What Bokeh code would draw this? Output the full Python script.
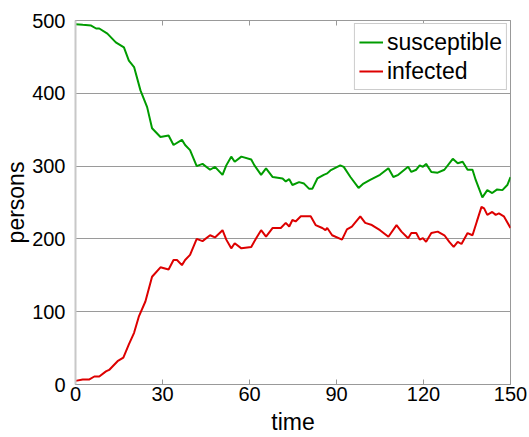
from bokeh.plotting import figure
from bokeh.models import Range1d, LinearAxis, FixedTicker, Legend, LegendItem
from bokeh.embed import file_html
from bokeh.resources import INLINE

time_s = [0, 2.5, 5.4, 7.1, 8.2, 11, 13.9, 16.7, 18.4, 20.2, 22.4, 24.7, 26.4, 29.3,
          32.1, 33.8, 36.7, 37.8, 39.5, 41.8, 43.8, 46.4, 48.1, 50.7, 52, 53.7, 54.9,
          57.2, 60.6, 61.7, 64, 65.7, 68, 71.4, 72.5, 73.7, 74.8, 77.1, 78.8, 80.5,
          81.7, 83.4, 85.6, 86.8, 87.9, 91.3, 92.5, 94.8, 97.6, 99.3, 101.6, 105,
          107.9, 109.6, 111.3, 114.7, 115.8, 117.5, 118.7, 119.8, 120.9, 122.7, 124.9,
          127.2, 130.1, 131.8, 133.5, 135.2, 136.9, 138, 140.3, 142, 143.7, 145.4,
          147.2, 148.9, 150]
susceptible = [495, 494, 493, 489, 489, 482, 470, 463, 445, 436, 404, 381, 352, 340,
               342, 329, 336, 329, 322, 300, 303, 295, 299, 288, 301, 313, 306,
               313, 309, 301, 288, 297, 285, 283, 279, 282, 274, 278, 276, 269,
               269, 283, 288, 290, 294, 301, 299, 285, 270, 276, 281, 288,
               297, 285, 288, 299, 292, 295, 301, 299, 303, 292, 291,
               295, 310, 304, 306, 295, 295, 281, 257, 267, 263, 268,
               267, 274, 285]

time_i = [0, 2.5, 4.8, 6.5, 8.2, 10.5, 11.6, 14.5, 16.5, 18.4, 20.2, 21.9, 24.1, 26.4,
          29.3, 32.1, 33.8, 35, 36.7, 37.8, 39.5, 41.8, 43.8, 46.4, 48.1, 50.7, 52,
          53.7, 54.9, 57.2, 60.6, 62.3, 64, 65.7, 68, 70.8, 72.5, 73.7, 74.8, 75.9,
          77.7, 79.9, 81.1, 82.8, 85.1, 86.2, 86.8, 88.5, 91.9, 93.6, 95.3, 98.2,
          99.9, 102.2, 105, 107.9, 110.7, 112.4, 114.7, 115.8, 117.5, 118.7, 119.8,
          120.9, 122.7, 124.9, 127.2, 128.9, 130.4, 131.8, 133.1, 135.2, 136.9,
          138.4, 140, 140.9, 142, 143.7, 144.9, 146, 147.7, 150]
infected = [5, 7, 7, 11, 11, 18, 20, 32, 37, 55, 71, 94, 114, 148,
            161, 158, 171, 171, 164, 171, 178, 200, 197, 205, 202, 212, 199,
            187, 194, 187, 189, 201, 212, 203, 215, 215, 222, 217, 226, 224,
            231, 231, 231, 219, 215, 212, 215, 205, 199, 213, 217, 231,
            222, 219, 212, 203, 219, 210, 201, 208, 208, 199, 201,
            196, 208, 210, 205, 196, 189, 196, 193, 208, 205,
            224, 244, 242, 233, 237, 233, 235, 231, 215]

x_ticks = [0, 30, 60, 90, 120, 150]
y_ticks = [0, 100, 200, 300, 400, 500]
grid_ticks = [100, 200, 300, 400]

FONT = "Liberation Sans"

p = figure(width=529, height=437, output_backend="svg", toolbar_location=None,
           x_range=Range1d(0, 150), y_range=Range1d(0, 500),
           min_border_left=60, min_border_right=19, min_border_top=20,
           min_border_bottom=52, background_fill_color="white",
           border_fill_color="white")

p.outline_line_color = "#999999"
p.outline_line_width = 1

p.xgrid.visible = False
p.ygrid.ticker = FixedTicker(ticks=grid_ticks)
p.ygrid.grid_line_color = "#9a9a9a"
p.ygrid.grid_line_width = 1

xa = p.xaxis[0]
xa.ticker = FixedTicker(ticks=x_ticks)
xa.axis_label = "time"
xa.axis_label_text_font = FONT
xa.axis_label_text_font_size = "23px"
xa.axis_label_text_font_style = "normal"
xa.axis_label_text_color = "black"
xa.axis_label_standoff = 5
xa.major_label_text_font = FONT
xa.major_label_text_font_size = "20px"
xa.major_label_text_color = "black"
xa.major_label_standoff = 2
xa.axis_line_color = "#999999"
xa.major_tick_line_color = "#999999"
xa.major_tick_in = 5
xa.major_tick_out = 0
xa.minor_tick_line_color = None

ya = p.yaxis[0]
ya.ticker = FixedTicker(ticks=y_ticks)
ya.axis_label = "persons"
ya.axis_label_text_font = FONT
ya.axis_label_text_font_size = "23px"
ya.axis_label_text_font_style = "normal"
ya.axis_label_text_color = "black"
ya.axis_label_standoff = 0
ya.major_label_text_font = FONT
ya.major_label_text_font_size = "20px"
ya.major_label_text_color = "black"
ya.major_label_standoff = 4
ya.axis_line_color = "#c8c8c8"
ya.axis_line_width = 2
ya.major_tick_line_color = None
ya.minor_tick_line_color = None

top = LinearAxis(ticker=FixedTicker(ticks=x_ticks),
                 major_label_overrides={t: "" for t in x_ticks},
                 major_label_text_font_size="1px",
                 axis_line_color="#999999", major_tick_line_color="#999999",
                 major_tick_in=5, major_tick_out=0, minor_tick_line_color=None,
                 major_label_standoff=0)
p.add_layout(top, "above")

r_s = p.line(time_s, susceptible, line_color="#009c00", line_width=2)
r_i = p.line(time_i, infected, line_color="#dd0000", line_width=2)

legend = Legend(items=[LegendItem(label="susceptible", renderers=[r_s]),
                       LegendItem(label="infected", renderers=[r_i])],
                location="top_right", margin=3, padding=4, spacing=1,
                glyph_width=24, glyph_height=28, label_height=28,
                label_standoff=4, label_text_font=FONT,
                label_text_font_size="23px", label_text_color="black",
                border_line_color="#999999", border_line_width=1,
                background_fill_color="white", background_fill_alpha=1)
p.add_layout(legend)

open("out.html", "w").write(file_html(p, INLINE))
